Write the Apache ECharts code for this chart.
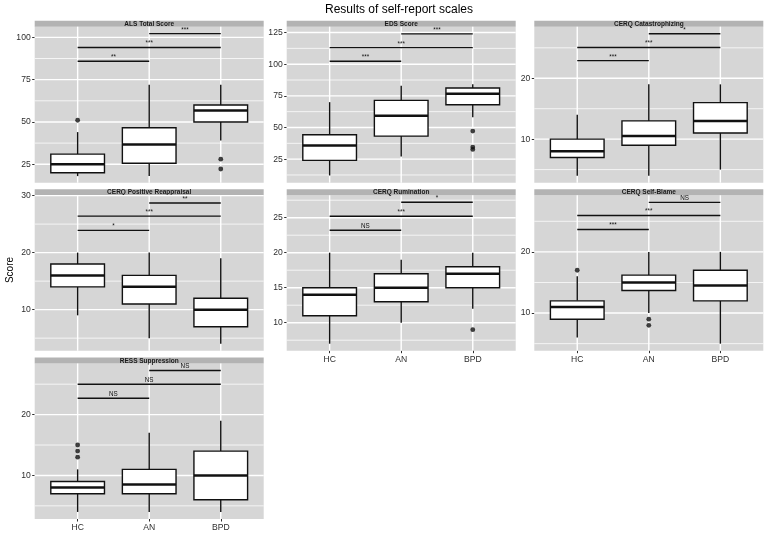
<!DOCTYPE html>
<html><head><meta charset="utf-8">
<script src="https://cdn.jsdelivr.net/npm/echarts@6/dist/echarts.min.js"></script>
<style>html,body{margin:0;padding:0;background:#fff}#c{width:767px;height:536px}</style>
</head><body><div id="c"></div>
<script>
const groups = ['HC', 'AN', 'BPD'];
const panelTitles = ['ALS Total Score', 'EDS Score', 'CERQ Catastrophizing',
  'CERQ Positive Reappraisal', 'CERQ Rumination', 'CERQ Self-Blame', 'RESS Suppression'];
const chartTitle = 'Results of self-report scales';
const yAxisName = 'Score';

// box stats per group (HC, AN, BPD): [whiskerLow, Q1, median, Q3, whiskerHigh]
const alsBox = [[18, 20, 25, 31, 44], [18, 25.6, 36.7, 46.6, 72], [39, 50, 56.7, 60, 72]];
const alsOut = [[1, 51], [3, 28], [3, 22.2]];
const alsSig = [[1, 2, 85.9, '**'], [1, 3, 94, '***'], [2, 3, 102.2, '***']];
const alsTicks = [25, 50, 75, 100];
const alsRange = [14.1, 106.3];

const edsBox = [[12.1, 24, 35.8, 44.3, 70], [27.1, 43.2, 59.3, 71.4, 83], [58, 68, 76.7, 81.2, 84.1]];
const edsOut = [[3, 47.2], [3, 34.5], [3, 32.7]];
const edsSig = [[1, 2, 102.3, '***'], [1, 3, 113.1, '***'], [2, 3, 123.9, '***']];
const edsTicks = [25, 50, 75, 100, 125];
const edsRange = [6.4, 129.6];

const catBox = [[4, 7, 8, 10, 14], [4, 9, 10.5, 13, 19], [5, 11, 13, 16, 19]];
const catOut = [];
const catSig = [[1, 2, 22.9, '***'], [1, 3, 25.05, '***'], [2, 3, 27.3, '*']];
const catTicks = [10, 20];
const catRange = [2.85, 28.47];

const posBox = [[9, 14, 16, 18, 20], [5, 11, 14, 16, 20], [4, 7, 10, 12, 19]];
const posOut = [];
const posSig = [[1, 2, 23.9, '*'], [1, 3, 26.4, '***'], [2, 3, 28.7, '**']];
const posTicks = [10, 20, 30];
const posRange = [2.8, 30.05];

const rumBox = [[7, 11, 14, 15, 20], [10, 13, 15, 17, 19], [12, 15, 17, 18, 20]];
const rumOut = [[3, 9]];
const rumSig = [[1, 2, 23.2, 'NS'], [1, 3, 25.2, '***'], [2, 3, 27.2, '*']];
const rumTicks = [10, 15, 20, 25];
const rumRange = [6, 28.2];

const sbBox = [[6, 9, 11, 12, 16], [10, 13.7, 15, 16.2, 20], [5, 12, 14.5, 17, 20]];
const sbOut = [[1, 17], [2, 9], [2, 8]];
const sbSig = [[1, 2, 23.66, '***'], [1, 3, 25.96, '***'], [2, 3, 28.1, 'NS']];
const sbTicks = [10, 20];
const sbRange = [3.85, 29.25];

const ressBox = [[4, 7, 8, 9, 11], [4, 7, 8.5, 11, 17], [4, 6, 10, 14, 19]];
const ressOut = [[1, 15], [1, 14], [1, 13]];
const ressSig = [[1, 2, 22.7, 'NS'], [1, 3, 25, 'NS'], [2, 3, 27.25, 'NS']];
const ressTicks = [10, 20];
const ressRange = [2.84, 28.4];

const panels = [
  { box: alsBox, out: alsOut, sig: alsSig, ticks: alsTicks, range: alsRange },
  { box: edsBox, out: edsOut, sig: edsSig, ticks: edsTicks, range: edsRange },
  { box: catBox, out: catOut, sig: catSig, ticks: catTicks, range: catRange },
  { box: posBox, out: posOut, sig: posSig, ticks: posTicks, range: posRange },
  { box: rumBox, out: rumOut, sig: rumSig, ticks: rumTicks, range: rumRange },
  { box: sbBox, out: sbOut, sig: sbSig, ticks: sbTicks, range: sbRange },
  { box: ressBox, out: ressOut, sig: ressSig, ticks: ressTicks, range: ressRange }
];

// layout (px)
const colX = [34.7, 286.7, 534.3];
const colW = 229;
const rowTop = [26.7, 195.3, 363.5];
const rowH = [156, 155.4, 155.5];
const stripH = 6;
const layout = [
  [0, 0, false], [1, 0, false], [2, 0, false],
  [0, 1, false], [1, 1, true], [2, 1, true],
  [0, 2, true]
];

const FONT = '"Liberation Sans", Arial, sans-serif';
const PANEL_BG = '#d6d6d6';
const STRIP_BG = '#b3b3b3';
const TXT = '#2e2e2e';

const grids = [], xAxes = [], yAxes = [], series = [], graphics = [];

function renderGridLines(params, api) {
  const cs = params.coordSys;
  const kind = api.value(0), v = api.value(1), major = api.value(2);
  const w = major ? 1.4 : 0.75;
  let shape;
  if (kind === 0) {
    const y = api.coord([1, v])[1];
    shape = { x1: cs.x, y1: y, x2: cs.x + cs.width, y2: y };
  } else {
    const x = api.coord([v, 0])[0];
    shape = { x1: x, y1: cs.y, x2: x, y2: cs.y + cs.height };
  }
  return { type: 'line', shape, style: { stroke: '#ffffff', lineWidth: w }, silent: true };
}

function renderBox(params, api) {
  const x = api.value(0);
  const lo = api.value(1), q1 = api.value(2), med = api.value(3), q3 = api.value(4), hi = api.value(5);
  const half = 0.375;
  const pLo = api.coord([x, lo]), pQ1 = api.coord([x, q1]), pQ3 = api.coord([x, q3]), pHi = api.coord([x, hi]);
  const pL = api.coord([x - half, q3]), pR = api.coord([x + half, q1]);
  const pM1 = api.coord([x - half, med]), pM2 = api.coord([x + half, med]);
  const lw = 1.4;
  return {
    type: 'group',
    children: [
      { type: 'line', shape: { x1: pLo[0], y1: pLo[1], x2: pQ1[0], y2: pQ1[1] }, style: { stroke: '#111', lineWidth: lw } },
      { type: 'line', shape: { x1: pQ3[0], y1: pQ3[1], x2: pHi[0], y2: pHi[1] }, style: { stroke: '#111', lineWidth: lw } },
      { type: 'rect', shape: { x: pL[0], y: pL[1], width: pR[0] - pL[0], height: pR[1] - pL[1] }, style: { fill: '#ffffff', stroke: '#111', lineWidth: lw } },
      { type: 'line', shape: { x1: pM1[0], y1: pM1[1], x2: pM2[0], y2: pM2[1] }, style: { stroke: '#111', lineWidth: 2.5 } }
    ]
  };
}

function makeSigRenderer(sig) {
  return function (params, api) {
    const p1 = api.coord([api.value(0), api.value(2)]);
    const p2 = api.coord([api.value(1), api.value(2)]);
    const label = sig[params.dataIndex][3];
    return {
      type: 'group',
      children: [
        { type: 'line', shape: { x1: p1[0], y1: p1[1], x2: p2[0], y2: p2[1] }, style: { stroke: '#111', lineWidth: 1.4 } },
        { type: 'text', style: { text: label, x: (p1[0] + p2[0]) / 2, y: p1[1] - 0.8, align: 'center', verticalAlign: 'bottom', textAlign: 'center', textVerticalAlign: 'bottom', fontSize: 6.3, fontFamily: FONT, fill: '#111' } }
      ]
    };
  };
}

panels.forEach((p, i) => {
  const [c, r, showX] = layout[i];
  const left = colX[c], top = rowTop[r], height = rowH[r];
  grids.push({ left, top, width: colW, height, show: true, backgroundColor: PANEL_BG, borderWidth: 0 });
  xAxes.push({
    gridIndex: i, type: 'value', min: 0.4, max: 3.6,
    axisLine: { show: false }, splitLine: { show: false },
    axisTick: { show: showX, customValues: [1, 2, 3], length: 2.5, lineStyle: { color: TXT, width: 1 } },
    axisLabel: { show: showX, customValues: [1, 2, 3], formatter: v => groups[Math.round(v) - 1] || '', margin: 4.5, fontSize: 8.6, color: TXT, fontFamily: FONT }
  });
  yAxes.push({
    gridIndex: i, type: 'value', min: p.range[0], max: p.range[1],
    axisLine: { show: false }, splitLine: { show: false },
    axisTick: { show: true, customValues: p.ticks, length: 2.5, lineStyle: { color: TXT, width: 1 } },
    axisLabel: { customValues: p.ticks, margin: 4, fontSize: 8.6, color: TXT, fontFamily: FONT }
  });
  const step = p.ticks.length > 1 ? p.ticks[1] - p.ticks[0] : 10;
  const gl = [];
  p.ticks.forEach(t => gl.push([0, t, 1]));
  for (let m = p.ticks[0] - step / 2; m <= p.ticks[p.ticks.length - 1] + step / 2 + 1e-9; m += step) {
    if (m > p.range[0] && m < p.range[1]) gl.push([0, m, 0]);
  }
  [1, 2, 3].forEach(g => gl.push([1, g, 1]));
  series.push({ type: 'custom', xAxisIndex: i, yAxisIndex: i, z: 1, silent: true, renderItem: renderGridLines, data: gl, encode: { x: 1, y: 1 } });
  series.push({ type: 'custom', xAxisIndex: i, yAxisIndex: i, z: 3, renderItem: renderBox,
    data: p.box.map((b, k) => [k + 1].concat(b)), encode: { x: 0, y: [1, 2, 3, 4, 5] } });
  series.push({ type: 'scatter', xAxisIndex: i, yAxisIndex: i, z: 4, symbolSize: 4.8, itemStyle: { color: '#111' }, data: p.out });
  series.push({ type: 'custom', xAxisIndex: i, yAxisIndex: i, z: 5, renderItem: makeSigRenderer(p.sig),
    data: p.sig.map(s => [s[0], s[1], s[2]]), encode: { x: [0, 1], y: 2 } });
  graphics.push({ type: 'rect', left, top: top - stripH, shape: { width: colW, height: stripH }, style: { fill: STRIP_BG }, silent: true });
  graphics.push({ type: 'text', x: left + colW / 2, y: top - stripH / 2 + 0.3, style: { text: panelTitles[i], align: 'center', verticalAlign: 'middle', textAlign: 'center', textVerticalAlign: 'middle', fontSize: 6.5, fontWeight: 'bold', fontFamily: FONT, fill: '#1a1a1a' }, silent: true });
});

graphics.push({ type: 'text', x: 399, y: 10, style: { text: chartTitle, align: 'center', verticalAlign: 'middle', textAlign: 'center', textVerticalAlign: 'middle', fontSize: 12, fontFamily: FONT, fill: '#000' } });
graphics.push({ type: 'text', x: 10.5, y: 270, rotation: Math.PI / 2, style: { text: yAxisName, align: 'center', verticalAlign: 'middle', textAlign: 'center', textVerticalAlign: 'middle', fontSize: 10, fontFamily: FONT, fill: '#000' } });

const chart = echarts.init(document.getElementById('c'), null, { renderer: 'canvas' });
chart.setOption({
  animation: false,
  backgroundColor: '#ffffff',
  grid: grids, xAxis: xAxes, yAxis: yAxes, series, graphic: graphics
});
</script>
</body></html>
